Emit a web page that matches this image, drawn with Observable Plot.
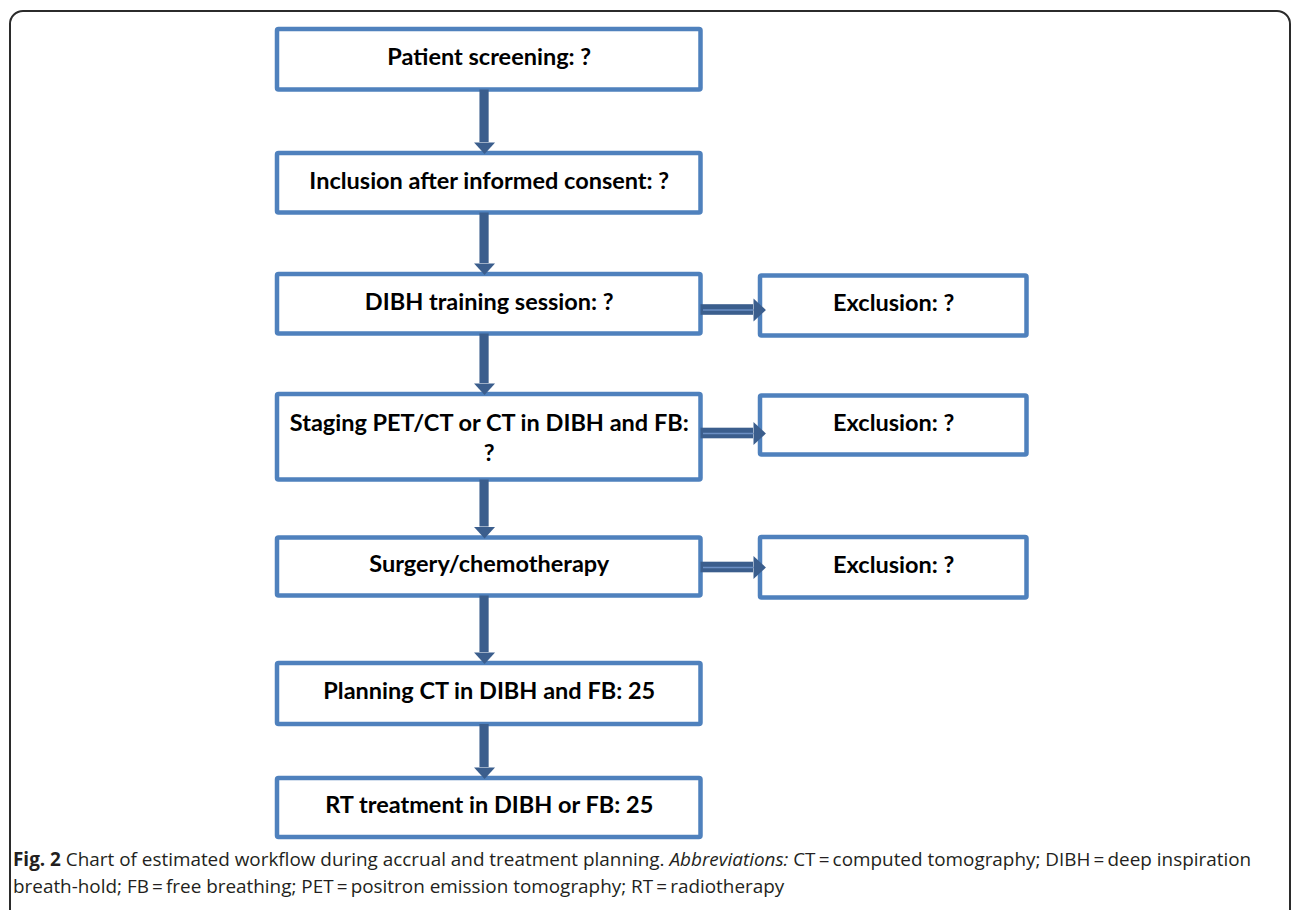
<!DOCTYPE html>
<html>
<head>
<meta charset="utf-8">
<script src="https://cdn.jsdelivr.net/npm/d3@7"></script>
<script src="https://cdn.jsdelivr.net/npm/@observablehq/plot@0.6"></script>
<style>
  html, body { margin: 0; padding: 0; background: #fff; width: 1293px; height: 910px; overflow: hidden; }
  #frame { position: absolute; left: 9px; top: 10px; width: 1282px; height: 940px; border: 2px solid #2b2b2b; border-radius: 14px; box-sizing: border-box; }
  #chart { position: absolute; left: 0; top: 0; }
  #caption { position: absolute; left: 13px; top: 846px; width: 1275px; font-family: "Open Sans", sans-serif; font-size: 18.9px; line-height: 27px; color: #231f20; white-space: nowrap; }
  #caption b { font-weight: 700; }
</style>
</head>
<body>
<div id="frame"></div>
<div id="chart"></div>
<div id="caption"><b>Fig. 2</b> Chart of estimated workflow during accrual and treatment planning. <i>Abbreviations:</i> CT&#8201;=&#8201;computed tomography; DIBH&#8201;=&#8201;deep inspiration<br>breath-hold; FB&#8201;=&#8201;free breathing; PET&#8201;=&#8201;positron emission tomography; RT&#8201;=&#8201;radiotherapy</div>
<script>
// ---------- data ----------
const steps = [
  "Patient screening: ?",
  "Inclusion after informed consent: ?",
  "DIBH training session: ?",
  "Staging PET/CT or CT in DIBH and FB:\n?",
  "Surgery/chemotherapy",
  "Planning CT in DIBH and FB: 25",
  "RT treatment in DIBH or FB: 25"
];
const exclusionLabels = ["Exclusion: ?", "Exclusion: ?", "Exclusion: ?"];
const exclusionFrom = [2, 3, 4]; // index of the step each exclusion branches from

// ---------- layout (diagram geometry) ----------
const mainCol = {left: 277, right: 700.5};
const sideCol = {left: 760, right: 1026.5};
const stepTop    = [29, 153, 274, 394, 537.5, 663, 778];
const stepBottom = [89.5, 212.5, 333.5, 479.5, 595.5, 724, 837];
const exclTop    = [275.5, 395.5, 537];
const exclBottom = [335.5, 454.5, 597.5];
const branchY    = [309.5, 433, 567];

const mainBoxes = steps.map((label, i) => ({
  label, x1: mainCol.left, x2: mainCol.right, y1: stepTop[i], y2: stepBottom[i]
}));
const sideBoxes = exclusionLabels.map((label, i) => ({
  label, x1: sideCol.left, x2: sideCol.right, y1: exclTop[i], y2: exclBottom[i]
}));
const boxes = mainBoxes.concat(sideBoxes);

const cx = (mainCol.left + mainCol.right) / 2 - 4.7;
const headLen = 11;
const vArrows = d3.range(steps.length - 1).map(i => ({
  x: cx, y1: stepBottom[i], y2: stepTop[i + 1] - headLen
}));
const hArrows = exclusionFrom.map((s, i) => ({
  y: branchY[i], x1: mainCol.right, x2: sideCol.left - 7
}));

// custom arrow-head symbols (base at origin)
const headDown = {draw(ctx, size) { const r = Math.sqrt(size / Math.PI); ctx.moveTo(-r, 0); ctx.lineTo(r, 0); ctx.lineTo(0, r * 1.1); ctx.closePath(); }};
const headRight = {draw(ctx, size) { const r = Math.sqrt(size / Math.PI); ctx.moveTo(0, -r); ctx.lineTo(0, r); ctx.lineTo(r * 1.08, 0); ctx.closePath(); }};

const arrowColor = "#3b5e8d";
const boxColor = "#4f81bd";

const chart = Plot.plot({
  width: 1293,
  height: 850,
  margin: 0,
  x: {domain: [0, 1293], range: [0, 1293], axis: null},
  y: {domain: [0, 850], range: [0, 850], axis: null},
  style: {background: "transparent", overflow: "visible"},
  marks: [
    // boxes
    Plot.rect(boxes, {x1: "x1", x2: "x2", y1: "y1", y2: "y2", fill: "white", stroke: boxColor, strokeWidth: 4.5, rx: 1.5}),
    Plot.text(boxes, {
      x: d => (d.x1 + d.x2) / 2,
      y: d => (d.y1 + d.y2) / 2 + (d.label.includes("\n") ? -1 : -4.5),
      text: "label",
      fontSize: 23.5, fontWeight: "bold", fontFamily: "Lato, 'Open Sans', sans-serif",
      fill: "black", lineHeight: 1.3
    }),
    // vertical arrows
    Plot.rect(vArrows, {x1: d => d.x - 4.6, x2: d => d.x + 4.6, y1: "y1", y2: "y2", fill: arrowColor}),
    Plot.dot(vArrows, {x: "x", y: "y2", symbol: headDown, r: 10.5, fill: arrowColor, stroke: "none"}),
    // horizontal arrows
    Plot.rect(hArrows, {x1: "x1", x2: "x2", y1: d => d.y - 5.3, y2: d => d.y + 5.3, fill: arrowColor}),
    Plot.link(hArrows, {x1: d => d.x1 + 2, x2: "x2", y1: "y", y2: "y", stroke: "#6b8fc4", strokeWidth: 1.3}),
    Plot.dot(hArrows, {x: "x2", y: "y", symbol: headRight, r: 11.5, fill: arrowColor, stroke: "none"})
  ]
});
document.getElementById("chart").appendChild(chart);
</script>
</body>
</html>
